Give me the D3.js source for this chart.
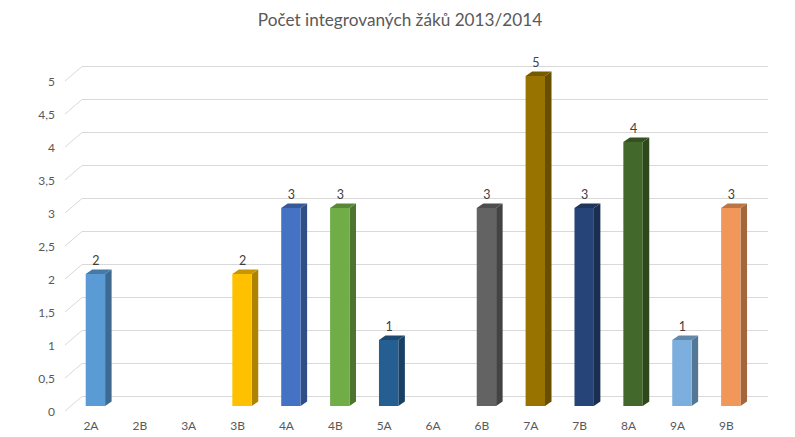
<!DOCTYPE html>
<html><head><meta charset="utf-8">
<script src="https://cdn.jsdelivr.net/npm/d3@7"></script>
<style>body{margin:0;background:#fff}svg{display:block}</style>
</head><body>
<script>
const categories = ["2A","2B","3A","3B","4A","4B","5A","6A","6B","7A","7B","8A","9A","9B"];
const values = [2,0,0,2,3,3,1,0,3,5,3,4,1,3];
const colors = ["#5B9BD5","#ED7D31","#A5A5A5","#FFC000","#4472C4","#70AD47","#255E91","#9E480E","#636363","#997300","#264478","#43682B","#7CAFDD","#F1975A"];
const yTicks = [0,0.5,1,1.5,2,2.5,3,3.5,4,4.5,5];
const title = "Počet integrovaných žáků 2013/2014";

const W = 795, H = 437;
const svg = d3.select("body").append("svg").attr("width", W).attr("height", H);
const font = "Lato, 'Open Sans', sans-serif";

// back wall scale
const yBack = d3.scaleLinear().domain([0,5]).range([396.5, 66.5]);
const x = d3.scaleBand().domain(categories).range([66.2, 750.5]).padding(0);
const depthX = 17, depthY = 14.5;
const backX0 = 82, backX1 = 768;

// gridlines
const g = svg.append("g");
yTicks.forEach(t => {
  const yb = yBack(t);
  g.append("line").attr("x1", backX0).attr("x2", backX1).attr("y1", yb).attr("y2", yb)
    .attr("stroke", "#d9d9d9").attr("stroke-width", 1);
  g.append("line").attr("x1", backX0 - depthX).attr("y1", yb + depthY).attr("x2", backX0).attr("y2", yb)
    .attr("stroke", "#d9d9d9").attr("stroke-width", 1);
});

// y tick labels
svg.append("g").selectAll("text").data(yTicks).join("text")
  .attr("x", 55).attr("y", d => yBack(d) + depthY)
  .attr("text-anchor", "end").attr("dominant-baseline", "central")
  .attr("font-family", font).attr("font-size", 12).attr("fill", "#595959")
  .text(d => String(d).replace(".", ","));

// x labels
svg.append("g").selectAll("text").data(categories).join("text")
  .attr("x", d => x(d) + x.bandwidth()/2 + 0.3).attr("y", 425)
  .attr("text-anchor", "middle").attr("dominant-baseline", "central")
  .attr("font-family", font).attr("font-size", 12).attr("fill", "#595959")
  .text(d => d);

// bars (3D-ish)
const faceDY = 9.5;   // front face offset from back wall
const barOff = 19.5, barW = 19.4, sdx = 6.5, sdy = 4.5;
const data = categories.map((c,i) => ({c, v: values[i], col: colors[i]})).filter(d => d.v > 0);
const bars = svg.append("g").selectAll("g").data(data).join("g");
function shade(c, k){ const r = d3.rgb(c); return d3.rgb(r.r*k, r.g*k, r.b*k).formatHex(); }
bars.each(function(d){
  const sel = d3.select(this);
  const x0 = x(d.c) + barOff, x1 = x0 + barW;
  const yt = yBack(d.v) + faceDY, yb = yBack(0) + faceDY;
  // side
  sel.append("path").attr("d", `M${x1},${yt}L${x1+sdx},${yt-sdy}L${x1+sdx},${yb-sdy}L${x1},${yb}Z`)
    .attr("fill", shade(d.col, 0.68));
  // top
  sel.append("path").attr("d", `M${x0},${yt}L${x0+sdx},${yt-sdy}L${x1+sdx},${yt-sdy}L${x1},${yt}Z`)
    .attr("fill", shade(d.col, 0.78));
  // front
  sel.append("rect").attr("x", x0).attr("y", yt).attr("width", barW).attr("height", yb - yt)
    .attr("fill", d.col);
  // label
  sel.append("text").attr("x", x0 + barW/2 + 0.5).attr("y", yt - 9.5)
    .attr("text-anchor", "middle")
    .attr("font-family", font).attr("font-size", 12.5).attr("fill", "#404040")
    .text(d.v);
});

// title
svg.append("text").attr("x", 400).attr("y", 26).attr("text-anchor", "middle")
  .attr("font-family", font).attr("font-size", 17.2).attr("fill", "#595959")
  .text(title);
</script>
</body></html>
